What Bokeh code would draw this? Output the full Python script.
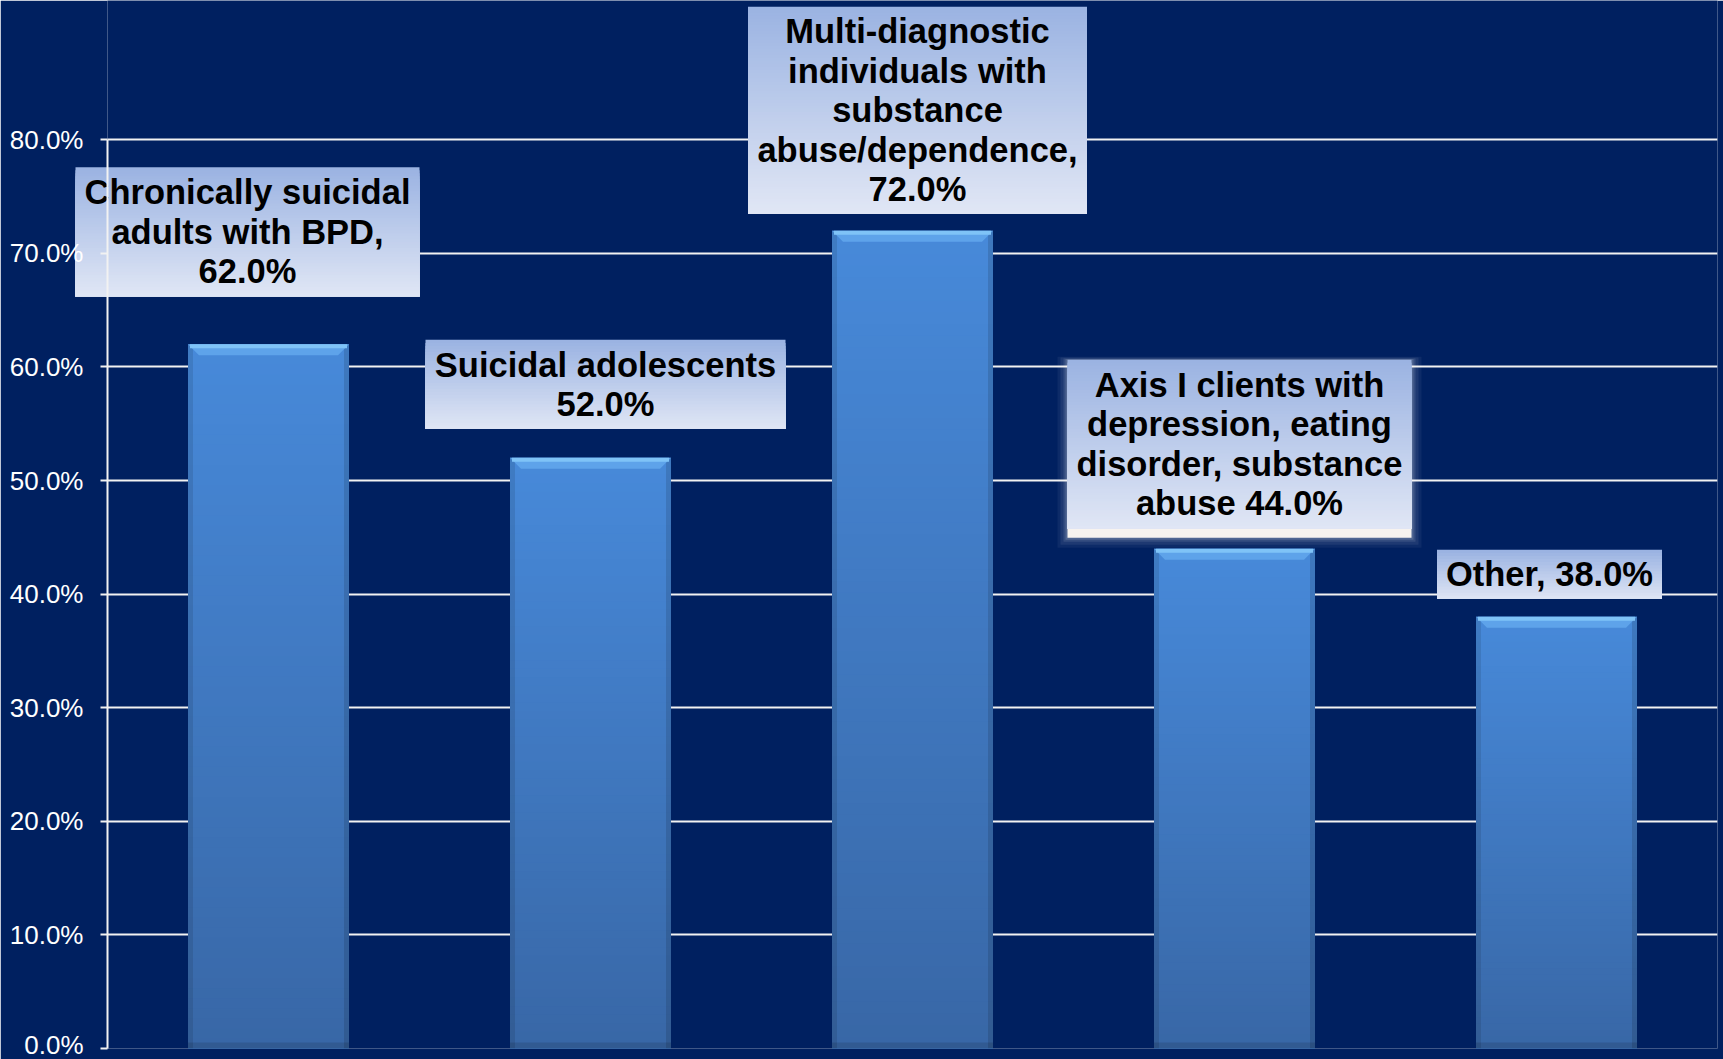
from bokeh.plotting import figure
from bokeh.models import Range1d, FixedTicker, PrintfTickFormatter
from bokeh.core.properties import value
from bokeh.embed import file_html
from bokeh.resources import INLINE

# ---- data -------------------------------------------------------------
categories = [
    "Chronically suicidal\nadults with BPD",
    "Suicidal adolescents",
    "Multi-diagnostic\nindividuals with\nsubstance\nabuse/dependence",
    "Axis I clients with\ndepression, eating\ndisorder, substance\nabuse",
    "Other",
]
values = [62.0, 52.0, 72.0, 44.0, 38.0]
joiners = [",\n", "\n", ",\n", " ", ", "]
y_ticks = [0, 10, 20, 30, 40, 50, 60, 70, 80]

# ---- callout layout (pixels): centre shift, gap above bar, width, height
callouts = [
    dict(dx=-21, gap=48, w=344, h=129, foot=0),
    dict(dx=15, gap=29, w=360, h=89, foot=0),
    dict(dx=5, gap=17, w=339, h=207, foot=0),
    dict(dx=5, gap=20, w=344, h=169, foot=9),
    dict(dx=-7, gap=18, w=225, h=49, foot=0),
]

# ---- page geometry ----------------------------------------------------
W, H = 1723, 1059
LEFT, RIGHT, TOP, BOTTOM = 107, 6, 0, 11
Y_MAX = 92.26
BG = "#002060"
n = len(values)
frame_w = W - LEFT - RIGHT
frame_h = H - TOP - BOTTOM
dx_px = n / frame_w       # data units per pixel, x
dy_px = Y_MAX / frame_h   # data units per pixel, y

FONT = "Liberation Sans"


def lerp(c0, c1, t):
    a = [int(c0[i:i + 2], 16) for i in (1, 3, 5)]
    b = [int(c1[i:i + 2], 16) for i in (1, 3, 5)]
    return "#%02x%02x%02x" % tuple(round(a[j] + (b[j] - a[j]) * t) for j in range(3))


p = figure(
    width=W, height=H,
    output_backend="svg", toolbar_location=None,
    x_range=Range1d(0, n), y_range=Range1d(0, Y_MAX),
    x_axis_location=None,
    min_border_left=LEFT, min_border_right=RIGHT,
    min_border_top=TOP, min_border_bottom=BOTTOM,
    background_fill_color=BG, border_fill_color=BG,
    outline_line_color=None,
)

p.xgrid.visible = False
p.ygrid.ticker = FixedTicker(ticks=y_ticks)
p.ygrid.grid_line_color = "#f2f2f2"
p.ygrid.grid_line_width = 2

ax = p.yaxis[0]
ax.ticker = FixedTicker(ticks=y_ticks)
ax.bounds = (y_ticks[0], y_ticks[-1])
ax.formatter = PrintfTickFormatter(format="%.1f%%")
ax.axis_line_color = "#f2f2f2"
ax.axis_line_width = 2
ax.major_tick_line_color = "#f2f2f2"
ax.major_tick_line_width = 2
ax.major_tick_out = 7
ax.major_tick_in = 0
ax.minor_tick_line_color = None
ax.major_label_standoff = 17
ax.major_label_text_color = "white"
ax.major_label_text_font = FONT
ax.major_label_text_font_size = "26px"

# ---- bars: nested rectangles give a seamless vertical gradient ----------
BAR_W = 0.5
STEPS = 70
BAR_TOP_C, BAR_BOT_C = "#4789d9", "#3867a6"
ql, qr, qt, qc = [], [], [], []
for k in range(STEPS, 0, -1):
    t = k / STEPS
    for i, v in enumerate(values):
        ql.append(i + 0.5 - BAR_W / 2)
        qr.append(i + 0.5 + BAR_W / 2)
        qt.append(v * t)
        qc.append(lerp(BAR_BOT_C, BAR_TOP_C, t))
p.quad(left=ql, right=qr, bottom=0, top=qt, fill_color=qc, line_color=None)

# darker side and foot edges
edge = 5 * dx_px
xs0 = [i + 0.5 - BAR_W / 2 for i in range(n)]
xs1 = [i + 0.5 + BAR_W / 2 for i in range(n)]
p.quad(left=xs0, right=[x + edge for x in xs0], bottom=0, top=values,
       fill_color="black", fill_alpha=0.10, line_color=None)
p.quad(left=[x - edge for x in xs1], right=xs1, bottom=0, top=values,
       fill_color="black", fill_alpha=0.12, line_color=None)
p.quad(left=xs0, right=xs1, bottom=0, top=6 * dy_px,
       fill_color="black", fill_alpha=0.12, line_color=None)

# bevelled top
bev_x, bev_y = 11 * dx_px, 11 * dy_px
px_, py_ = [], []
for i, v in enumerate(values):
    x0, x1 = xs0[i], xs1[i]
    px_.append([x0, x1, x1 - bev_x, x0 + bev_x])
    py_.append([v, v, v - bev_y, v - bev_y])
p.patches(px_, py_, fill_color="#5ea3ea", line_color=None)
p.quad(left=[x + 2 * dx_px for x in xs0], right=[x - 2 * dx_px for x in xs1],
       bottom=[v - 4 * dy_px for v in values], top=values,
       fill_color="#7fc3f7", line_color=None)

# ---- callout boxes with value labels -------------------------------------
BOX_TOP_C, BOX_BOT_C = "#9bb3e2", "#e1e7f5"
gl, gr, gb, gt, ga = [], [], [], [], []
fl, fr, fb, ft = [], [], [], []
bl, br, bb, bt, bc = [], [], [], [], []
tx, ty, tt = [], [], []
for i, (v, cat, j, c) in enumerate(zip(values, categories, joiners, callouts)):
    cx = i + 0.5 + c["dx"] * dx_px
    half = c["w"] / 2 * dx_px
    bottom = v + (c["gap"] - c["foot"]) * dy_px
    body_bottom = v + c["gap"] * dy_px
    top = body_bottom + c["h"] * dy_px

    if c["foot"]:
        # soft white glow around the callout and a pale strip at its foot
        for g, a in ((10, 0.05), (7, 0.07), (4, 0.10), (2, 0.14)):
            gl.append(cx - half - g * dx_px)
            gr.append(cx + half + g * dx_px)
            gb.append(bottom - g * dy_px)
            gt.append(top + g * dy_px * 0.3)
            ga.append(a)
        fl.append(cx - half)
        fr.append(cx + half)
        fb.append(bottom)
        ft.append(body_bottom)

    steps = max(int(c["h"] / 3), 10)
    for k in range(steps, 0, -1):
        t = k / steps
        bl.append(cx - half)
        br.append(cx + half)
        bb.append(body_bottom)
        bt.append(body_bottom + (top - body_bottom) * t)
        bc.append(lerp(BOX_BOT_C, BOX_TOP_C, t))

    tx.append(cx)
    ty.append((body_bottom + top) / 2)
    tt.append(f"{cat}{j}{v:.1f}%")

p.quad(left=gl, right=gr, bottom=gb, top=gt, fill_color="white", fill_alpha=ga,
       line_color=None, level="guide")
p.quad(left=fl, right=fr, bottom=fb, top=ft, fill_color="#f7f3ef",
       line_color=None, level="guide")
p.quad(left=bl, right=br, bottom=bb, top=bt, fill_color=bc,
       line_color=None, level="guide")
p.text(x=tx, y=ty, text=tt, text_align="center", text_baseline="middle",
       text_font=value(FONT), text_font_style="bold", text_font_size="34.5px",
       text_color="black", text_line_height=1.04, level="guide")

open("out.html", "w").write(file_html(p, INLINE))
